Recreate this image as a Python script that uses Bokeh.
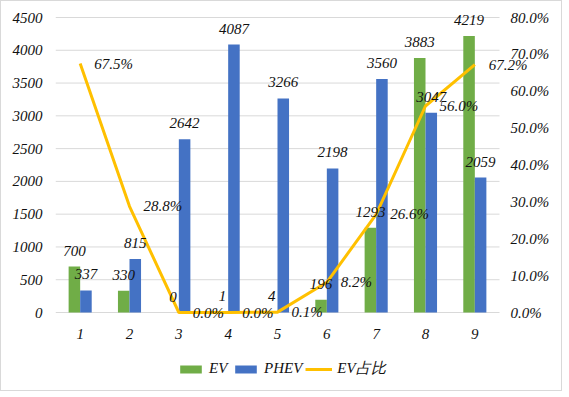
from bokeh.plotting import figure
from bokeh.models import (ColumnDataSource, Range1d, LinearAxis, FixedTicker,
                          NumeralTickFormatter, Legend, LegendItem, LabelSet)
from bokeh.transform import dodge
from bokeh.embed import file_html
from bokeh.resources import INLINE

# ---- data ----
categories = [1, 2, 3, 4, 5, 6, 7, 8, 9]
ev = [700, 330, 0, 1, 4, 196, 1293, 3883, 4219]
phev = [337, 815, 2642, 4087, 3266, 2198, 3560, 3047, 2059]
ev_share_pct = [67.5, 28.8, 0.0, 0.0, 0.1, 8.2, 26.6, 56.0, 67.2]
left_ticks = [0, 500, 1000, 1500, 2000, 2500, 3000, 3500, 4000, 4500]
right_ticks = [0.0, 0.1, 0.2, 0.3, 0.4, 0.5, 0.6, 0.7, 0.8]
series_names = ["EV", "PHEV", "EV占比"]

# ---- layout (pixels) ----
PLOT_W, PLOT_H = 444, 295          # the chart's plot area
EXT_R, EXT_T, EXT_B = 56, 12, 69   # extra frame room for labels / legend
Y_MAX, P_MAX = 4500, 0.8
FONT = "Liberation Serif"
FS = "15px"
GREEN, BLUE, GOLD = "#70AD47", "#4472C4", "#FFC000"
GRID = "#D9D9D9"
TXT = "#111111"
BW = 0.234

x0, x1 = min(categories) - 0.5, max(categories) + 0.5
ux = (x1 - x0) / PLOT_W
uy = Y_MAX / PLOT_H
up = P_MAX / PLOT_H

src = ColumnDataSource(dict(
    cat=categories,
    ev=ev,
    phev=phev,
    ev_lbl=[str(v) for v in ev],
    phev_lbl=[str(v) for v in phev],
    share=[v / 100 for v in ev_share_pct],
    share_lbl=[f"{v:.1f}%" for v in ev_share_pct],
))

p = figure(frame_width=PLOT_W + EXT_R, frame_height=PLOT_H + EXT_T + EXT_B,
           x_range=Range1d(x0, x1 + EXT_R * ux),
           y_range=Range1d(-EXT_B * uy, Y_MAX + EXT_T * uy),
           output_backend="svg", toolbar_location=None,
           min_border_left=54, min_border_right=6,
           min_border_top=4, min_border_bottom=9)
p.extra_y_ranges = {"pct": Range1d(-EXT_B * up, P_MAX + EXT_T * up)}
p.outline_line_color = None
p.background_fill_color = "white"
p.border_fill_color = "white"
p.styles = {"border": "1px solid #D9D9D9"}
p.xgrid.visible = False
p.ygrid.visible = False

# horizontal gridlines across the plot area
p.segment(x0=[x0] * len(left_ticks), x1=[x1] * len(left_ticks),
          y0=left_ticks, y1=left_ticks, line_color=GRID, line_width=1)

# bars
r_ev = p.vbar(x=dodge("cat", -BW / 2, range=p.x_range), top="ev", width=BW,
              source=src, fill_color=GREEN, line_color=None)
r_phev = p.vbar(x=dodge("cat", BW / 2, range=p.x_range), top="phev", width=BW,
                source=src, fill_color=BLUE, line_color=None)

# line
r_line = p.line(x="cat", y="share", y_range_name="pct", source=src,
                line_color=GOLD, line_width=3)

# bar labels
for col, lbl, off in (("ev", "ev_lbl", -BW / 2), ("phev", "phev_lbl", BW / 2)):
    p.add_layout(LabelSet(x=dodge("cat", off, range=p.x_range), y=col, text=lbl,
                          source=src, text_align="center",
                          text_baseline="alphabetic", y_offset=11,
                          text_font=FONT, text_font_style="italic",
                          text_font_size=FS, text_color=TXT))

# line labels
p.add_layout(LabelSet(x="cat", y="share", text="share_lbl", source=src,
                      y_range_name="pct", text_align="left",
                      text_baseline="middle", x_offset=14,
                      text_font=FONT, text_font_style="italic",
                      text_font_size=FS, text_color=TXT))

# axes
p.xaxis.ticker = FixedTicker(ticks=categories)
p.yaxis.ticker = FixedTicker(ticks=left_ticks)
ax_r = LinearAxis(y_range_name="pct", ticker=FixedTicker(ticks=right_ticks),
                  formatter=NumeralTickFormatter(format="0.0%"))
p.add_layout(ax_r, "right")

for ax in p.axis:
    ax.axis_line_color = None
    ax.major_tick_line_color = None
    ax.minor_tick_line_color = None
    ax.major_label_text_font = FONT
    ax.major_label_text_font_style = "italic"
    ax.major_label_text_font_size = FS
    ax.major_label_text_color = TXT
p.yaxis[0].major_label_standoff = 7
ax_r.major_label_standoff = -(EXT_R - 5)
p.xaxis.major_label_standoff = -(EXT_B - 10)

legend = Legend(items=[LegendItem(label=series_names[0], renderers=[r_ev]),
                       LegendItem(label=series_names[1], renderers=[r_phev]),
                       LegendItem(label=series_names[2], renderers=[r_line])],
                orientation="horizontal", location=(122, 3),
                glyph_width=27, glyph_height=10, label_standoff=5, spacing=3,
                padding=0, margin=0, border_line_color=None,
                background_fill_alpha=0,
                label_text_font=FONT, label_text_font_style="italic",
                label_text_font_size=FS, label_text_color=TXT)
p.add_layout(legend)

open("out.html", "w").write(file_html(p, INLINE))
